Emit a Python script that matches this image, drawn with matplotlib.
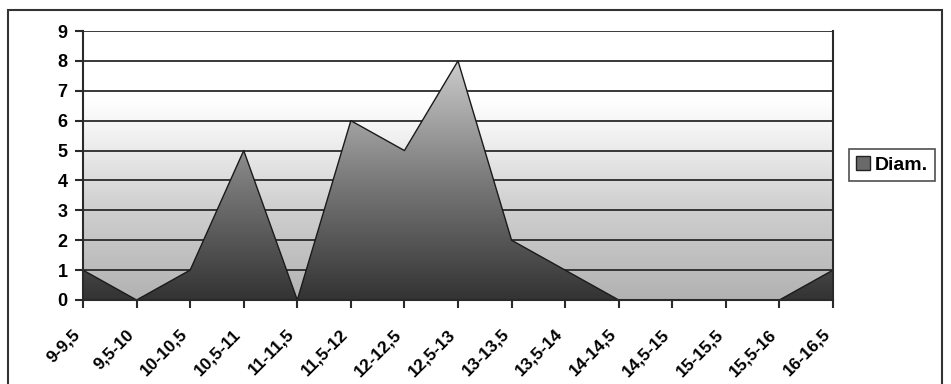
import numpy as np
import matplotlib
matplotlib.use("Agg")
import matplotlib.pyplot as plt
import matplotlib.patches as mpatches
from matplotlib.colors import LinearSegmentedColormap

# ── data ──────────────────────────────────────────────────────────────
categories = ["9-9,5", "9,5-10", "10-10,5", "10,5-11", "11-11,5", "11,5-12",
              "12-12,5", "12,5-13", "13-13,5", "13,5-14", "14-14,5", "14,5-15",
              "15-15,5", "15,5-16", "16-16,5"]
values = [1, 0, 1, 5, 0, 6, 5, 8, 2, 1, 0, 0, 0, 0, 1]
series_name = "Diam."
y_ticks = list(range(0, 10))

plt.rcParams["font.family"] = ["Liberation Sans", "DejaVu Sans"]
plt.rcParams["font.weight"] = "bold"

fig = plt.figure(figsize=(9.51, 3.84), dpi=100)
ax = fig.add_axes([83 / 951, 1 - 300 / 384, 750 / 951, 269 / 384])

x = np.arange(len(categories))
ax.set_xlim(0, len(categories) - 1)
ax.set_ylim(0, 9)

# background gradient (white at top -> grey at bottom)
bg_cmap = LinearSegmentedColormap.from_list(
    "bg", [(0.0, "#b2b2b2"), (0.35, "#d0d0d0"), (0.62, "#f2f2f2"), (0.75, "#ffffff"),
           (1.0, "#ffffff")])
grad = np.linspace(0, 1, 256).reshape(-1, 1)
ax.imshow(grad, cmap=bg_cmap, origin="lower", aspect="auto",
          extent=[0, len(categories) - 1, 0, 9], zorder=0)

# grid lines
for t in y_ticks[1:]:
    ax.axhline(t, color="#2a2a2a", lw=1.3, zorder=1)

# area with vertical gradient
area_cmap = LinearSegmentedColormap.from_list(
    "area", [(0.0, "#333333"), (0.5, "#7a7a7a"), (1.0, "#cccccc")])
poly = ax.fill_between(x, values, 0, facecolor="none", edgecolor="none", zorder=2)
img = ax.imshow(grad, cmap=area_cmap, origin="lower", aspect="auto",
                extent=[0, len(categories) - 1, 0, max(values)], zorder=2)
img.set_clip_path(poly.get_paths()[0], transform=ax.transData)
ax.plot(x, values, color="#1a1a1a", lw=1.0, zorder=3)

# axes styling
ax.spines["top"].set_visible(False)
for side in ["left", "bottom", "right"]:
    ax.spines[side].set_color("#2a2a2a")
    ax.spines[side].set_linewidth(1.5)
    ax.spines[side].set_zorder(4)

ax.set_yticks(y_ticks)
ax.set_yticklabels([str(t) for t in y_ticks], fontsize=13, fontweight="bold")
ax.set_xticks(x)
ax.set_xticklabels(categories, rotation=45, ha="right", fontsize=12.5,
                   fontweight="bold")
ax.tick_params(axis="y", direction="out", length=6, width=1.5, color="#2a2a2a", pad=5)
ax.tick_params(axis="x", direction="out", length=6, width=1.5, color="#2a2a2a", pad=13)

# legend
handle = mpatches.Patch(facecolor="#6a6a6a", edgecolor="#222222", label=series_name)
leg = fig.legend(handles=[handle], loc="center", bbox_to_anchor=(892 / 951, 1 - 165 / 384),
                 frameon=True, fancybox=False, fontsize=14, handlelength=0.75,
                 handleheight=0.75, handletextpad=0.25, borderpad=0.35)
leg.get_frame().set_edgecolor("#222222")
leg.get_frame().set_linewidth(1.2)
for t in leg.get_texts():
    t.set_fontweight("bold")

# outer chart border
fig.patches.append(mpatches.Rectangle((8 / 951, -0.05), 934 / 951, 1.05 - 10 / 384,
                                      transform=fig.transFigure, fill=False,
                                      edgecolor="#333333", lw=1.5))

fig.savefig("out.png", dpi=100)
